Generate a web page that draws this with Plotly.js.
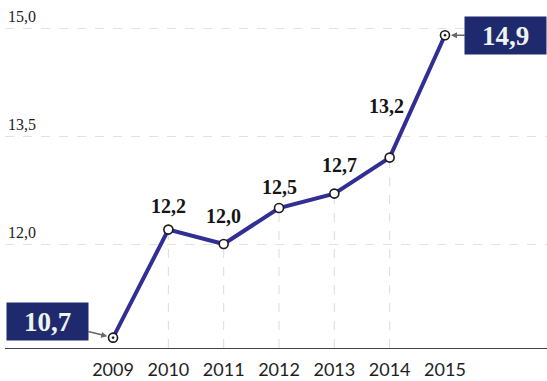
<!DOCTYPE html>
<html>
<head>
<meta charset="utf-8">
<script src="https://cdn.plot.ly/plotly-3.0.1.min.js"></script>
<style>
  html, body { margin: 0; padding: 0; background: #ffffff; }
  #chart { width: 547px; height: 381px; }
</style>
</head>
<body>
<div id="chart"></div>
<script>
const years = [2009, 2010, 2011, 2012, 2013, 2014, 2015];
const values = [10.7, 12.2, 12.0, 12.5, 12.7, 13.2, 14.9];
const valueLabels = ['10,7', '12,2', '12,0', '12,5', '12,7', '13,2', '14,9'];
const yTickVals = [12.0, 13.5, 15.0];
const yTickText = ['12,0', '13,5', '15,0'];
const xTickText = ['2009', '2010', '2011', '2012', '2013', '2014', '2015'];

const yMin = 10.556, yMax = 15.389;
const lineColor = '#312e94';
const boxColor = '#1f2a6e';

// drop lines from inner points to the baseline
const dropX = [], dropY = [];
for (let i = 1; i < years.length - 1; i++) {
  dropX.push(years[i], years[i], null);
  dropY.push(yMin, values[i], null);
}

const symbols = years.map((y, i) => (i === 0 || i === years.length - 1) ? 'circle-dot' : 'circle');

const traces = [
  {
    x: dropX, y: dropY, mode: 'lines', type: 'scatter',
    line: { color: '#dcdcdc', width: 1, dash: 'dash' },
    hoverinfo: 'skip', showlegend: false
  },
  {
    x: years, y: values, mode: 'lines+markers', type: 'scatter',
    line: { color: lineColor, width: 4 },
    marker: { symbol: symbols, size: 9, color: '#ffffff', line: { color: '#1a1a1a', width: 1.6 } },
    showlegend: false, hoverinfo: 'skip'
  }
];

// label offsets (style only)
const labelShift = [null, [0, 24], [0, 28], [0, 21], [5, 29], [-3, 52], null];

const annotations = [];
years.forEach((yr, i) => {
  if (labelShift[i]) {
    annotations.push({
      x: yr, y: values[i], text: '<b>' + valueLabels[i] + '</b>', showarrow: false,
      xshift: labelShift[i][0], yshift: labelShift[i][1],
      font: { family: 'Liberation Serif', size: 20, color: '#151515' }
    });
  }
});
// boxed end labels
annotations.push({
  x: years[0], y: values[0], text: '<b>' + valueLabels[0] + '</b>',
  showarrow: true, ax: -66, ay: -16, arrowhead: 2, arrowsize: 0.8, arrowwidth: 1.5,
  arrowcolor: '#666666', standoff: 6,
  bgcolor: boxColor, borderpad: 4, width: 73, height: 29,
  font: { family: 'Liberation Serif', size: 27, color: '#eef4f0' }
});
annotations.push({
  x: years[6], y: values[6], text: '<b>' + valueLabels[6] + '</b>',
  showarrow: true, ax: 61, ay: 0, arrowhead: 2, arrowsize: 0.8, arrowwidth: 1.5,
  arrowcolor: '#666666', standoff: 6,
  bgcolor: boxColor, borderpad: 4, width: 73, height: 29,
  font: { family: 'Liberation Serif', size: 27, color: '#eef4f0' }
});

const layout = {
  width: 547, height: 381,
  margin: { l: 5, r: 0, t: 0, b: 33 },
  paper_bgcolor: '#ffffff', plot_bgcolor: '#ffffff',
  showlegend: false,
  xaxis: {
    range: [2007.047, 2016.844],
    tickvals: years, ticktext: xTickText,
    showgrid: false, zeroline: false,
    showline: true, linecolor: '#444444', linewidth: 1,
    ticks: '', ticklabelstandoff: 5,
    tickfont: { family: 'Lato', size: 18, color: '#1e1e1e' }
  },
  yaxis: {
    range: [yMin, yMax],
    tickvals: yTickVals, ticktext: yTickText,
    ticklabelposition: 'inside top',
    showgrid: true, gridcolor: '#e2e2e2', griddash: 'dash', gridwidth: 1,
    zeroline: false, showline: false, ticks: '',
    tickfont: { family: 'Liberation Serif', size: 16, color: '#222222' }
  },
  annotations: annotations
};

Plotly.newPlot('chart', traces, layout, { displayModeBar: false, staticPlot: true });
</script>
</body>
</html>
